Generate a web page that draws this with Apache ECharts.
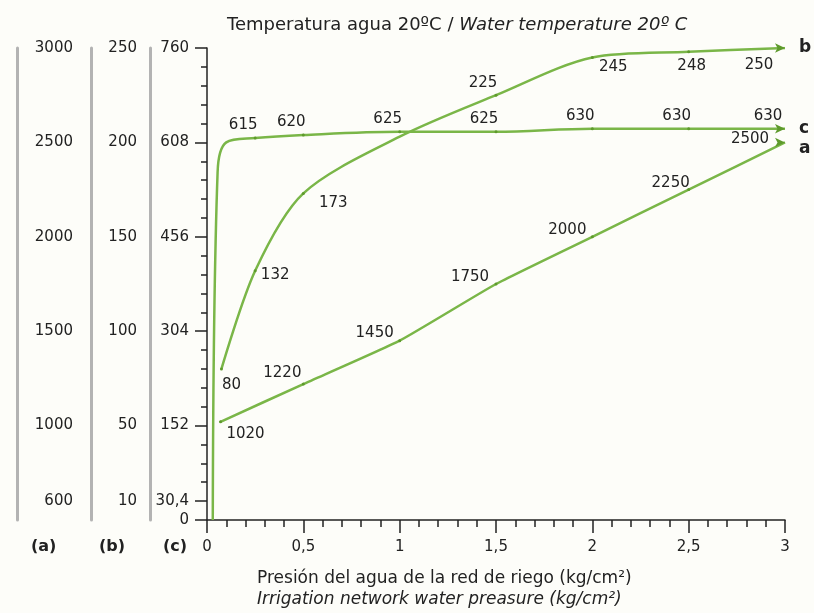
<!DOCTYPE html>
<html>
<head>
<meta charset="utf-8">
<script src="https://cdn.jsdelivr.net/npm/echarts@6/dist/echarts.min.js"></script>
<style>
  html, body { margin: 0; padding: 0; background: #fdfdf9; }
  #chart { width: 814px; height: 613px; }
</style>
</head>
<body>
<div id="chart"></div>
<script>
  // curve a (scale a), curve b (scale b), curve c (scale c) - x = pressure kg/cm2
  var aPressure = [0.07, 0.5, 1, 1.5, 2, 2.5, 3];
  var aValues = [1020, 1220, 1450, 1750, 2000, 2250, 2500];

  var bPressure = [0.075, 0.25, 0.5, 1, 1.5, 2, 2.5, 3];
  var bValues = [80, 132, 173, 203, 225, 245, 248, 250];
  var bLabeled = [true, true, true, false, true, true, true, true];

  var cPressure = [0.03, 0.055, 0.1, 0.25, 0.5, 1, 1.5, 2, 2.5, 3];
  var cValues = [0, 560, 608, 615, 620, 625, 625, 630, 630, 630];
  var cLabeled = [false, false, false, true, true, true, true, true, true, true];

  var aTicks = [600, 1000, 1500, 2000, 2500, 3000];
  var bTicks = [10, 50, 100, 150, 200, 250];
  var cTicks = [0, 30.4, 152, 304, 456, 608, 760];

  var green = '#7ab648';
  var dark = '#5e9a2c';
  var font = 'DejaVu Sans';

  // label offsets (style only)
  var aOffsets = [[25, 12], [-21, -11], [-25, -8], [-26, -7], [-25, -7], [-18, -6], [-30, -3]];
  var bOffsets = [[10, 16], [20, 4], [30, 10], [0, 0], [-13, -12], [21, 10], [3, 14], [-21, 17]];
  var cOffset = [-12, -13];

  function fmt(v) {
    return String(v).replace('.', ',');
  }

  function endPoint(item) {
    item.symbol = 'arrow';
    item.symbolSize = [7, 10];
    item.symbolRotate = -90;
    return item;
  }

  function buildData(xs, ys, offsets, labeled) {
    var out = [];
    for (var i = 0; i < xs.length; i++) {
      var item = { value: [xs[i], ys[i]] };
      var show = labeled ? labeled[i] : true;
      item.label = { show: show, offset: offsets ? offsets[i] : cOffset };
      if (!show) item.symbol = 'none';
      if (i === xs.length - 1) endPoint(item);
      out.push(item);
    }
    return out;
  }

  var myChart = echarts.init(document.getElementById('chart'));

  var labelBase = {
    position: 'inside',
    align: 'center',
    verticalAlign: 'middle',
    fontFamily: font,
    fontSize: 15,
    color: '#222',
    formatter: function (p) { return p.value[1]; }
  };

  var endBase = { show: true, distance: 14, fontFamily: font, fontSize: 17, fontWeight: 'bold', color: '#222' };

  var option = {
    backgroundColor: '#fdfdf9',
    animation: false,
    title: [{
      text: '{n|Temperatura agua 20ºC / }{i|Water temperature 20º C}',
      left: 222,
      top: 11,
      textStyle: {
        rich: {
          n: { fontFamily: font, fontSize: 18, fontWeight: 'normal', color: '#222' },
          i: { fontFamily: font, fontSize: 18, fontWeight: 'normal', fontStyle: 'italic', color: '#222' }
        }
      }
    }, {
      text: '{n|Presión del agua de la red de riego (kg/cm²)}\n{i|Irrigation network water preasure (kg/cm²)}',
      left: 252,
      top: 563,
      textStyle: {
        rich: {
          n: { fontFamily: font, fontSize: 17, fontWeight: 'normal', color: '#222', lineHeight: 21 },
          i: { fontFamily: font, fontSize: 17, fontWeight: 'normal', fontStyle: 'italic', color: '#222', lineHeight: 21 }
        }
      }
    }],
    graphic: [
      { type: 'text', left: 31, top: 539, style: { text: '(a)', font: 'bold 16px DejaVu Sans', fill: '#222' } },
      { type: 'text', left: 99, top: 539, style: { text: '(b)', font: 'bold 16px DejaVu Sans', fill: '#222' } },
      { type: 'text', left: 163, top: 539, style: { text: '(c)', font: 'bold 16px DejaVu Sans', fill: '#222' } }
    ],
    grid: {
      left: 207,
      right: 29,
      top: 48,
      bottom: 93
    },
    xAxis: {
      type: 'value',
      min: 0,
      max: 3,
      interval: 0.5,
      axisLine: { lineStyle: { color: '#222', width: 1.5 } },
      axisTick: { length: 13, lineStyle: { color: '#222', width: 1.5 } },
      minorTick: { show: true, splitNumber: 5, length: 7, lineStyle: { color: '#222', width: 1.5 } },
      splitLine: { show: false },
      axisLabel: {
        margin: 20,
        fontFamily: font,
        fontSize: 15,
        color: '#222',
        formatter: fmt
      }
    },
    yAxis: [{
      // (c) scale
      type: 'value',
      position: 'left',
      min: 0,
      max: 760,
      axisLine: { show: true, lineStyle: { color: '#222', width: 1.5 } },
      axisTick: { show: true, customValues: cTicks, length: 12, lineStyle: { color: '#222', width: 1.5 } },
      axisLabel: {
        customValues: cTicks,
        margin: 18,
        fontFamily: font,
        fontSize: 15,
        color: '#222',
        formatter: fmt
      },
      splitLine: { show: false }
    }, {
      // small ticks every 30,4
      type: 'value',
      position: 'left',
      min: 0,
      max: 760,
      interval: 30.4,
      axisLine: { show: false },
      axisTick: { show: true, length: 6, lineStyle: { color: '#222', width: 1.5 } },
      axisLabel: { show: false },
      splitLine: { show: false }
    }, {
      // (b) scale
      type: 'value',
      position: 'left',
      offset: 116,
      min: 0,
      max: 250,
      axisLine: { show: true, lineStyle: { color: '#b3b3b3', width: 3 } },
      axisTick: { show: false },
      axisLabel: {
        customValues: bTicks,
        inside: true,
        align: 'right',
        margin: 46,
        fontFamily: font,
        fontSize: 15,
        color: '#222',
        formatter: fmt
      },
      splitLine: { show: false }
    }, {
      // (a) scale
      type: 'value',
      position: 'left',
      offset: 190,
      min: 500,
      max: 3000,
      axisLine: { show: true, lineStyle: { color: '#b3b3b3', width: 3 } },
      axisTick: { show: false },
      axisLabel: {
        customValues: aTicks,
        inside: true,
        align: 'right',
        margin: 56,
        fontFamily: font,
        fontSize: 15,
        color: '#222',
        formatter: fmt
      },
      splitLine: { show: false }
    }, {
      // grey bar of the (c) column
      type: 'value',
      position: 'left',
      offset: 57,
      min: 0,
      max: 760,
      axisLine: { show: true, lineStyle: { color: '#b3b3b3', width: 3 } },
      axisTick: { show: false },
      axisLabel: { show: false },
      splitLine: { show: false }
    }],
    series: [{
      name: 'a',
      type: 'line',
      yAxisIndex: 3,
      smooth: 0.15,
      symbol: 'circle',
      symbolSize: 3,
      itemStyle: { color: dark },
      lineStyle: { color: green, width: 2.5 },
      label: labelBase,
      endLabel: Object.assign({ formatter: 'a', offset: [0, 6] }, endBase),
      data: buildData(aPressure, aValues, aOffsets)
    }, {
      name: 'b',
      type: 'line',
      yAxisIndex: 2,
      smooth: 0.3,
      symbol: 'circle',
      symbolSize: 3,
      itemStyle: { color: dark },
      lineStyle: { color: green, width: 2.5 },
      label: labelBase,
      endLabel: Object.assign({ formatter: 'b' }, endBase),
      data: buildData(bPressure, bValues, bOffsets, bLabeled)
    }, {
      name: 'c',
      type: 'line',
      yAxisIndex: 0,
      smooth: 0.35,
      symbol: 'circle',
      symbolSize: 3,
      itemStyle: { color: dark },
      lineStyle: { color: green, width: 2.5 },
      label: labelBase,
      endLabel: Object.assign({ formatter: 'c', offset: [0, 0] }, endBase),
      data: buildData(cPressure, cValues, null, cLabeled)
    }]
  };

  myChart.setOption(option);
</script>
</body>
</html>
